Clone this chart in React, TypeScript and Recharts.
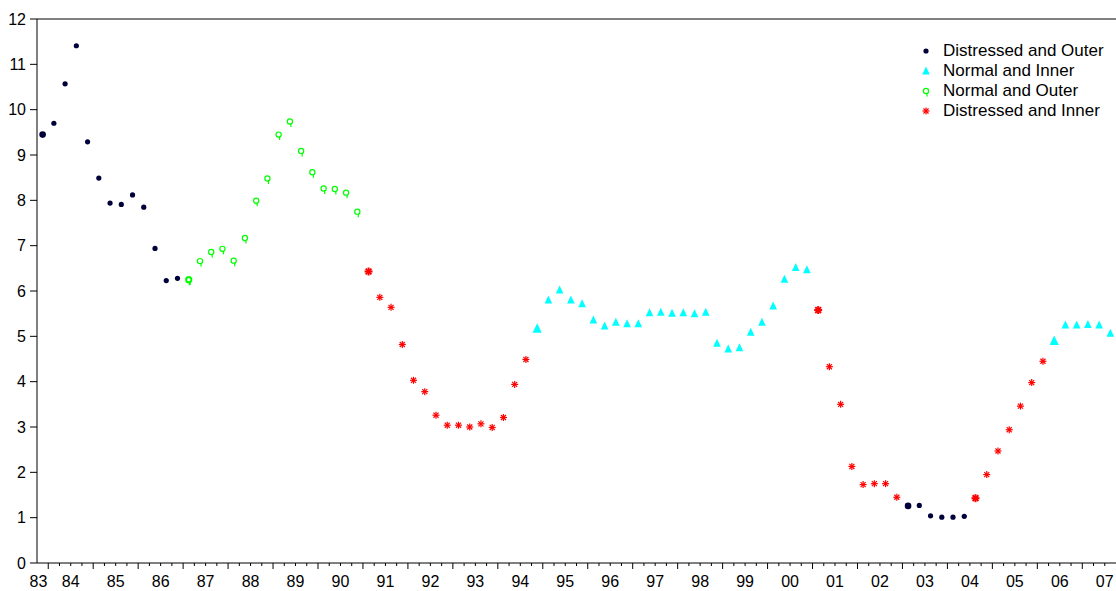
import { ScatterChart, Scatter, XAxis, YAxis, ReferenceLine, Legend } from 'recharts'

// quarterly observations, 1983Q4 .. 2007Q3
const years = ['83', '84', '85', '86', '87', '88', '89', '90', '91', '92', '93', '94', '95', '96', '97', '98', '99', '00', '01', '02', '03', '04', '05', '06', '07']

const rate = [
  9.45, 9.7, 10.57, 11.41, 9.29, 8.49, 7.94, 7.91, 8.12, 7.85, 6.94, 6.23, 6.28,
  6.25, 6.66, 6.86, 6.93, 6.67, 7.17, 7.99, 8.48, 9.45, 9.74, 9.09, 8.62, 8.26, 8.25, 8.17, 7.75,
  6.43, 5.86, 5.64, 4.82, 4.03, 3.78, 3.26, 3.04, 3.04, 3.0, 3.07, 2.99, 3.21, 3.94, 4.49,
  5.17, 5.8, 6.02, 5.8, 5.72, 5.36, 5.23, 5.31, 5.28, 5.28, 5.52, 5.53, 5.51, 5.52, 5.5, 5.53,
  4.85, 4.72, 4.75, 5.09, 5.31, 5.67, 6.26, 6.52, 6.47,
  5.58, 4.33, 3.5, 2.13, 1.73, 1.75, 1.75, 1.45,
  1.26, 1.27, 1.04, 1.01, 1.01, 1.03,
  1.43, 1.95, 2.47, 2.94, 3.46, 3.98, 4.45,
  4.9, 5.25, 5.25, 5.26, 5.25, 5.07,
]

// regime runs: [code, number of quarters]
const regimeRuns: [string, number][] = [
  ['DO', 13], ['NO', 16], ['DI', 15], ['NI', 25], ['DI', 8], ['DO', 6], ['DI', 7], ['NI', 6],
]

const seriesNames: Record<string, string> = {
  DO: 'Distressed and Outer',
  NI: 'Normal and Inner',
  NO: 'Normal and Outer',
  DI: 'Distressed and Inner',
}
const legendOrder = ['DO', 'NI', 'NO', 'DI']
const yTicks = [0, 1, 2, 3, 4, 5, 6, 7, 8, 9, 10, 11, 12]

const NAVY = '#00003a'
const CYAN = '#00ffff'
const GREEN = '#00ff00'
const RED = '#ff0000'
const FONT = '"Liberation Sans", Arial, sans-serif'

type Pt = { i: number; v: number; start: boolean }
const points: Record<string, Pt[]> = { DO: [], NI: [], NO: [], DI: [] }
let idx = 0
regimeRuns.forEach(([code, n]) => {
  for (let k = 0; k < n; k++) {
    points[code].push({ i: idx, v: rate[idx], start: k === 0 })
    idx++
  }
})

const nObs = rate.length
const xTicks: number[] = [-0.37]
for (let k = 0; k < nObs - 1; k++) xTicks.push(k + 0.5)

function DotShape(p: any) {
  const { cx, cy } = p
  if (cx == null) return null
  const bold = p.payload?.start
  return <circle cx={cx} cy={cy} r={bold ? 3.3 : 2.6} fill={NAVY} />
}

function TriShape(p: any) {
  const { cx, cy } = p
  if (cx == null) return null
  const s = p.payload?.start ? 1.2 : 1
  return (
    <polygon
      points={`${cx},${cy - 4.5 * s} ${cx + 3.8 * s},${cy + 3.5 * s} ${cx - 3.8 * s},${cy + 3.5 * s}`}
      fill={CYAN}
    />
  )
}

function QShape(p: any) {
  const { cx, cy } = p
  if (cx == null) return null
  const bold = p.payload?.start
  const w = bold ? 2 : 1.2
  return (
    <g stroke={GREEN} strokeWidth={w} fill="none">
      <circle cx={cx} cy={cy} r={2.6} />
      <line x1={cx + 1} y1={cy + 2} x2={cx + 1} y2={cy + 5.5} />
    </g>
  )
}

function StarShape(p: any) {
  const { cx, cy } = p
  if (cx == null) return null
  const bold = p.payload?.start
  const r = bold ? 4 : 3.5
  const d = r * 0.72
  return (
    <g stroke={RED} strokeWidth={bold ? 2 : 1.2}>
      <line x1={cx - r} y1={cy} x2={cx + r} y2={cy} />
      <line x1={cx} y1={cy - r} x2={cx} y2={cy + r} />
      <line x1={cx - d} y1={cy - d} x2={cx + d} y2={cy + d} />
      <line x1={cx - d} y1={cy + d} x2={cx + d} y2={cy - d} />
    </g>
  )
}

const shapes: Record<string, (p: any) => any> = { DO: DotShape, NI: TriShape, NO: QShape, DI: StarShape }

function XTick(props: any) {
  const { x, y, payload } = props
  const v: number = payload.value
  if (v < 0) {
    return (
      <text x={x} y={y + 24} textAnchor="middle" fontSize={16} fontFamily={FONT} fill="#000">
        {years[0]}
      </text>
    )
  }
  const k = v - 0.5
  const major = k % 4 === 0
  const isCenter = (k + 2) % 4 === 0
  return (
    <g>
      <line x1={x} y1={y} x2={x} y2={y + (major ? 6 : 3)} stroke="#000" strokeWidth={1} />
      {isCenter && (
        <text x={x} y={y + 24} textAnchor="middle" fontSize={16} fontFamily={FONT} fill="#000">
          {years[(v + 1.5) / 4]}
        </text>
      )}
    </g>
  )
}

function LegendBox() {
  return (
    <div style={{ fontFamily: FONT, fontSize: 17, color: '#000', lineHeight: '20px' }}>
      {legendOrder.map((code) => {
        const Shape = shapes[code]
        return (
          <div key={code} style={{ display: 'flex', alignItems: 'center', height: 20, whiteSpace: 'nowrap' }}>
            <svg width={16} height={20} style={{ display: 'block' }}>
              <Shape cx={8} cy={10} payload={{ start: false }} />
            </svg>
            <span style={{ marginLeft: 9 }}>{seriesNames[code]}</span>
          </div>
        )
      })}
    </div>
  )
}

export default function App() {
  return (
    <div style={{ position: 'absolute', left: 0, top: 0, background: '#fff' }}>
      <ScatterChart width={1116} height={591} margin={{ top: 19, right: 0, bottom: 0, left: 0 }}>
        <XAxis
          type="number"
          dataKey="i"
          domain={[-0.5, nObs - 0.5]}
          allowDataOverflow
          ticks={xTicks}
          interval={0}
          tick={<XTick />}
          tickLine={false}
          tickSize={0}
          tickMargin={0}
          height={28}
          axisLine={{ stroke: '#000', strokeWidth: 1 }}
        />
        <YAxis
          type="number"
          dataKey="v"
          domain={[0, 12]}
          ticks={yTicks}
          interval={0}
          width={37}
          tickSize={7}
          tickMargin={4}
          axisLine={{ stroke: '#000', strokeWidth: 1 }}
          tickLine={{ stroke: '#000' }}
          tick={{ fill: '#000', fontSize: 16, fontFamily: FONT }}
        />
        <ReferenceLine y={12} stroke="#000" strokeWidth={1} />
        <Legend
          layout="vertical"
          align="center"
          verticalAlign="middle"
          content={<LegendBox />}
          wrapperStyle={{ position: 'absolute', left: 918, top: 41, width: 200 }}
        />
        {legendOrder.map((code) => (
          <Scatter
            key={code}
            name={seriesNames[code]}
            data={points[code]}
            shape={shapes[code]}
            isAnimationActive={false}
          />
        ))}
      </ScatterChart>
    </div>
  )
}
